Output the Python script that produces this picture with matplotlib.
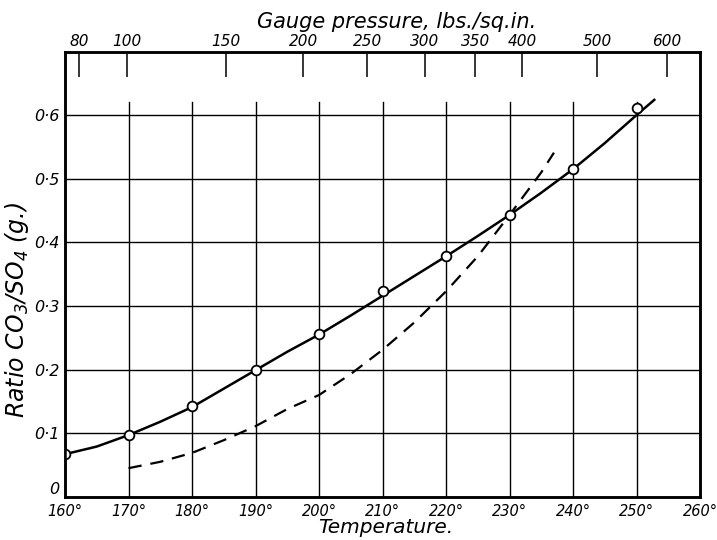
import matplotlib
matplotlib.use("Agg")
import matplotlib.pyplot as plt
import numpy as np

plt.rcParams['font.family'] = ['DejaVu Sans']
plt.rcParams['font.style'] = 'italic'
plt.rcParams['mathtext.fontset'] = 'custom'
plt.rcParams['mathtext.rm'] = 'DejaVu Sans:italic'
plt.rcParams['mathtext.it'] = 'DejaVu Sans:italic'

# Observed points
point_temps = [160, 170, 180, 190, 200, 210, 220, 230, 240, 250]
point_ratio = [0.067, 0.097, 0.143, 0.200, 0.256, 0.324, 0.378, 0.443, 0.515, 0.611]

# Smooth solid curve
solid_temps = [160, 165, 170, 175, 180, 185, 190, 195, 200, 205, 210, 215, 220, 225, 230, 235, 240, 245, 250, 252.8]
solid_ratio = [0.067, 0.079, 0.097, 0.118, 0.141, 0.170, 0.199, 0.228, 0.255, 0.285, 0.316, 0.347,
               0.378, 0.410, 0.443, 0.478, 0.515, 0.556, 0.600, 0.624]

# Dashed curve
dash_temps = [170, 175, 180, 185, 190, 195, 200, 205, 210, 215, 220, 225, 230, 235, 237]
dash_ratio = [0.045, 0.055, 0.069, 0.089, 0.111, 0.138, 0.160, 0.193, 0.231, 0.274, 0.323, 0.378,
              0.443, 0.510, 0.541]

# Axes ticks
temp_ticks = [160, 170, 180, 190, 200, 210, 220, 230, 240, 250, 260]
temp_labels = ['160°', '170°', '180°', '190°', '200°', '210°', '220°', '230°', '240°', '250°', '260°']
ratio_ticks = [0, 0.1, 0.2, 0.3, 0.4, 0.5, 0.6]
ratio_labels = ['0', '0·1', '0·2', '0·3', '0·4', '0·5', '0·6']
pressure_labels = ['80', '100', '150', '200', '250', '300', '350', '400', '500', '600']
pressure_temps = [162.2, 169.8, 185.4, 197.5, 207.6, 216.7, 224.6, 232.0, 243.8, 254.8]

fig = plt.figure(figsize=(7.17, 5.40), dpi=100)
ax = fig.add_axes([0.0907, 0.080, 0.8856, 0.8246])
ax.set_xlim(160, 260)
ax.set_ylim(0, 0.7)

# grid
for t in temp_ticks[1:-1]:
    ax.plot([t, t], [0, 0.62], color='black', lw=1.0, zorder=1)
for r in ratio_ticks[1:]:
    ax.axhline(r, color='black', lw=1.0, zorder=1)

ax.plot(solid_temps, solid_ratio, color='black', lw=1.8, zorder=3)
ax.plot(dash_temps, dash_ratio, color='black', lw=1.6, ls=(0, (6, 4)), zorder=3)
ax.plot(point_temps, point_ratio, ls='none', marker='o', ms=7, mfc='white', mec='black', mew=1.3, zorder=4)

for s in ax.spines.values():
    s.set_linewidth(1.8)

ax.set_xticks(temp_ticks)
ax.set_xticklabels(temp_labels, fontsize=10.5)
ax.set_yticks(ratio_ticks)
ax.set_yticklabels(ratio_labels, fontsize=11.5)
ax.get_yticklabels()[0].set_va('bottom')
ax.tick_params(axis='x', length=0, pad=5)
ax.tick_params(axis='y', length=0, pad=4)
ax.set_xlabel('Temperature.', fontsize=14.5)
ax.xaxis.set_label_coords(0.505, -0.047)
ax.set_ylabel('Ratio CO$_3$/SO$_4$ (g.)', fontsize=17)
ax.yaxis.set_label_coords(-0.053, 0.42)

top = ax.twiny()
top.set_xlim(160, 260)
top.set_xticks(pressure_temps)
top.set_xticklabels(pressure_labels, fontsize=11)
top.tick_params(axis='x', direction='in', length=18, width=1.1, pad=2)
top.set_xlabel('Gauge pressure, lbs./sq.in.', fontsize=15)
top.xaxis.set_label_coords(0.523, 1.052)
for s in top.spines.values():
    s.set_linewidth(1.8)

fig.savefig('out.png', dpi=100)
